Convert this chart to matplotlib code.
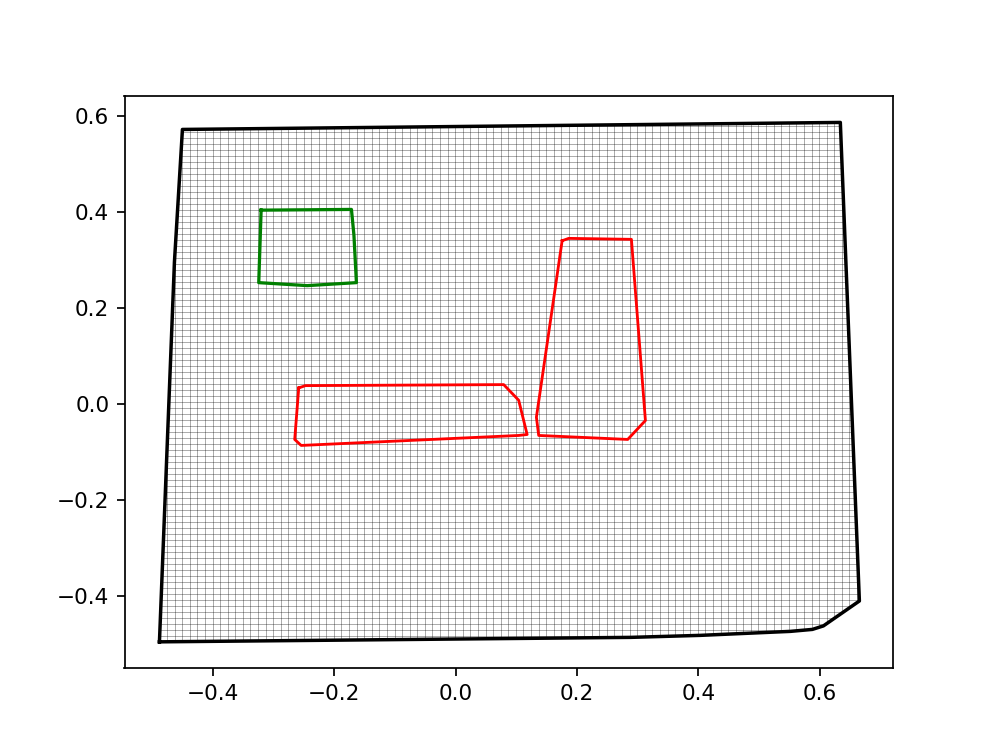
import numpy as np
import matplotlib
matplotlib.use("Agg")
import matplotlib.pyplot as plt
from matplotlib.patches import Polygon

# outer boundary (black)
outer_x = [-0.4884, -0.4637, -0.4505, 0.6340, 0.6654, 0.6061, 0.5879, 0.5517, 0.4033, 0.2879, -0.4884]
outer_y = [-0.4957, 0.2953, 0.5716, 0.5862, -0.4106, -0.4625, -0.4698, -0.4739, -0.4822, -0.4864, -0.4957]

# green region
green_x = [-0.3208, -0.1719, -0.1678, -0.1637, -0.2449, -0.3247, -0.3208]
green_y = [0.4035, 0.4050, 0.3516, 0.2525, 0.2463, 0.2525, 0.4035]

# red regions
red1_x = [-0.2588, -0.2477, 0.0791, 0.1038, 0.1177, 0.1038, -0.2548, -0.2654, -0.2588]
red1_y = [0.0332, 0.0380, 0.0401, 0.0075, -0.0638, -0.0658, -0.0866, -0.0741, 0.0332]

red2_x = [0.1754, 0.1863, 0.2896, 0.3127, 0.2835, 0.1368, 0.1330, 0.1754]
red2_y = [0.3398, 0.3447, 0.3427, -0.0347, -0.0741, -0.0658, -0.0278, 0.3398]

xticks = [-0.4, -0.2, 0.0, 0.2, 0.4, 0.6]
yticks = [-0.4, -0.2, 0.0, 0.2, 0.4, 0.6]

# mesh spacing
step = 0.0125

fig, ax = plt.subplots(figsize=(996 / 156, 751 / 156), dpi=156)
fig.subplots_adjust(left=0.125, right=0.897, bottom=0.11, top=0.872)

# mesh lines, clipped to the outer boundary
clip = Polygon(np.column_stack([outer_x, outer_y]), closed=True,
               facecolor="none", edgecolor="none")
ax.add_patch(clip)

xs = np.arange(min(outer_x), max(outer_x) + step, step)
ys = np.arange(min(outer_y), max(outer_y) + step, step)
for x in xs:
    ln, = ax.plot([x, x], [ys[0], ys[-1]], color="k", lw=0.3, alpha=0.5, scalex=False, scaley=False)
    ln.set_clip_path(clip)
for y in ys:
    ln, = ax.plot([xs[0], xs[-1]], [y, y], color="k", lw=0.3, alpha=0.5, scalex=False, scaley=False)
    ln.set_clip_path(clip)

ax.plot(outer_x, outer_y, color="black", lw=1.6)
ax.plot(green_x, green_y, color="green", lw=1.5)
ax.plot(red1_x, red1_y, color="red", lw=1.3)
ax.plot(red2_x, red2_y, color="red", lw=1.3)

ax.set_xlim(-0.546, 0.7215)
ax.set_ylim(-0.551, 0.641)
ax.set_xticks(xticks)
ax.set_yticks(yticks)

plt.savefig("out.png")
plt.close()
